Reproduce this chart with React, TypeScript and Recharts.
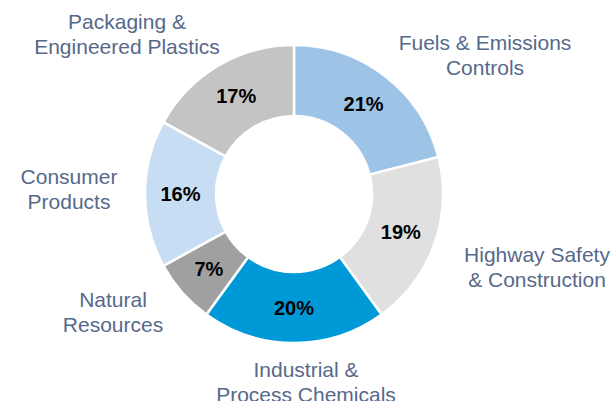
import React from 'react';
import { PieChart, Pie, Cell } from 'recharts';

const categories = [
  'Fuels & Emissions Controls',
  'Highway Safety & Construction',
  'Industrial & Process Chemicals',
  'Natural Resources',
  'Consumer Products',
  'Packaging & Engineered Plastics',
];
const shares = [21, 19, 20, 7, 16, 17];
const labelLines = [
  ['Fuels & Emissions', 'Controls'],
  ['Highway Safety', '& Construction'],
  ['Industrial &', 'Process Chemicals'],
  ['Natural', 'Resources'],
  ['Consumer', 'Products'],
  ['Packaging &', 'Engineered Plastics'],
];

const colors = ['#9DC3E6', '#E0E0E0', '#0099D8', '#A0A0A0', '#C6DDF3', '#C4C4C4'];
// outer label placement (layout only): centre-x offset and first-baseline offset from pie centre
const outerOffsets: [number, number][] = [
  [191, -144],
  [243, 68],
  [12, 183],
  [-181, 113],
  [-225, -10],
  [-167, -165],
];

const data = categories.map((name, i) => ({ name, value: shares[i] }));

const RAD = Math.PI / 180;
const FONT = "'Liberation Sans', Arial, sans-serif";

const renderLabel = (props: any) => {
  const { cx, cy, midAngle, index, value, innerRadius, outerRadius } = props;
  const r = (innerRadius + outerRadius) / 2;
  const px = cx + r * Math.cos(-midAngle * RAD);
  const py = cy + r * Math.sin(-midAngle * RAD);
  const [ox, oy] = outerOffsets[index];
  const lines = labelLines[index];
  return (
    <g>
      <text
        x={px}
        y={py}
        textAnchor="middle"
        dominantBaseline="central"
        fill="#000"
        fontWeight="bold"
        fontSize={20}
        fontFamily={FONT}
      >
        {`${value}%`}
      </text>
      <text textAnchor="middle" fill="#56698A" fontSize={21} fontFamily={FONT}>
        <tspan x={cx + ox} y={cy + oy}>{lines[0]}</tspan>
        <tspan x={cx + ox} y={cy + oy + 25}>{lines[1]}</tspan>
      </text>
    </g>
  );
};

export default function App() {
  return (
    <div style={{ position: 'absolute', left: 0, top: 0, width: 616, height: 401, background: '#fff' }}>
      <PieChart width={616} height={401} margin={{ top: 0, right: 0, bottom: 0, left: 0 }}>
        <Pie
          data={data}
          dataKey="value"
          nameKey="name"
          cx={294}
          cy={194}
          innerRadius={78}
          outerRadius={149}
          startAngle={90}
          endAngle={-270}
          stroke="#fff"
          strokeWidth={2.5}
          label={renderLabel}
          labelLine={false}
          isAnimationActive={false}
        >
          {data.map((d, i) => (
            <Cell key={d.name} fill={colors[i]} />
          ))}
        </Pie>
      </PieChart>
    </div>
  );
}
